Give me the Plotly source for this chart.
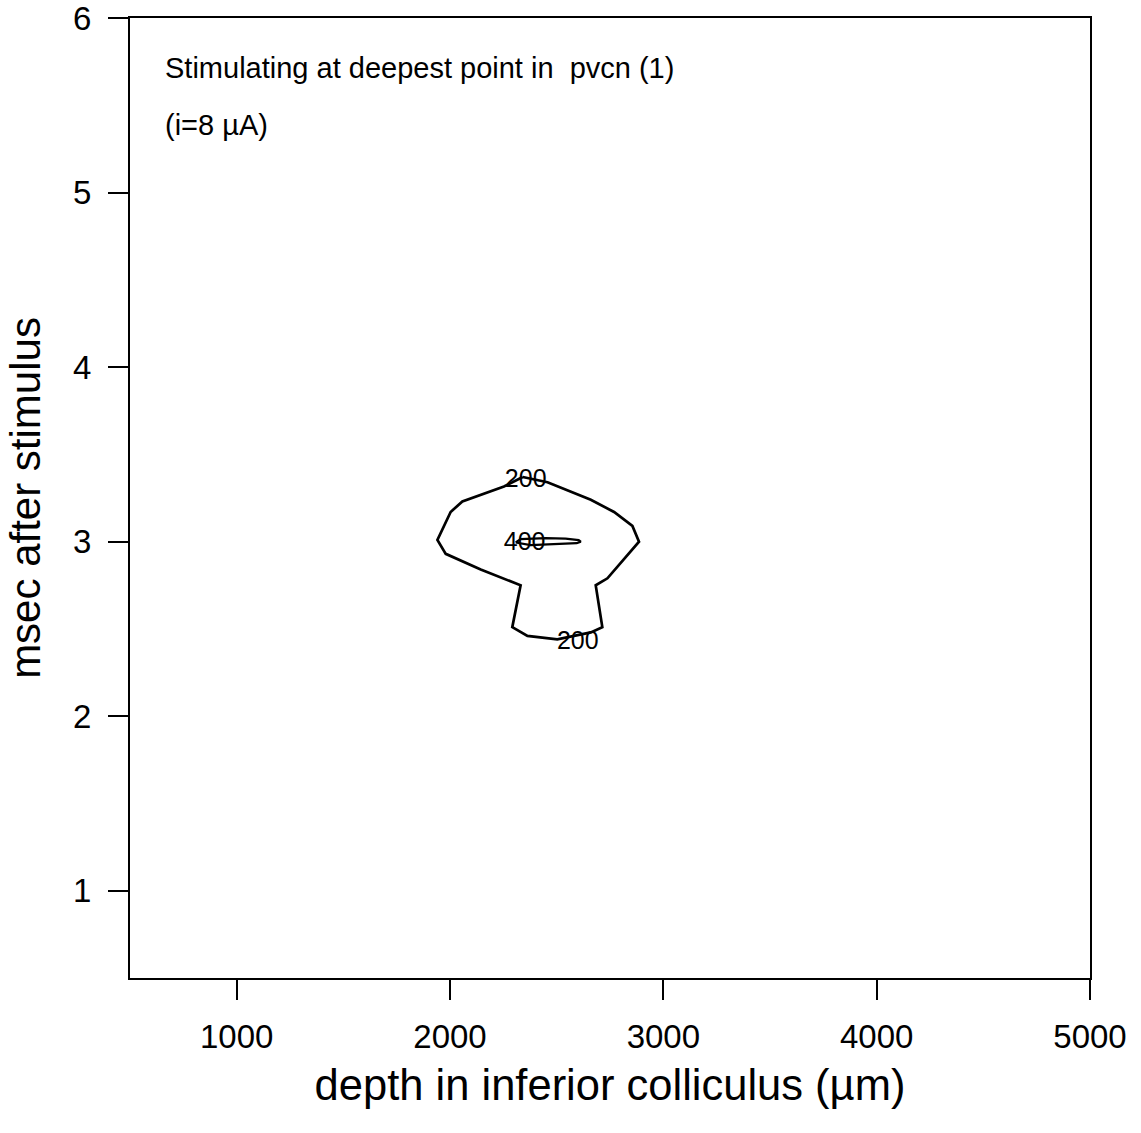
import plotly.graph_objects as go

# Contour level 200 (outer closed curve), depth in µm vs msec after stimulus
c200_x = [2341, 2253, 2058, 2003, 1941, 1980, 2144, 2331, 2292, 2363, 2503, 2660, 2714, 2683, 2738, 2886, 2855, 2769, 2660, 2457, 2341]
c200_y = [3.37, 3.316, 3.23, 3.17, 3.01, 2.93, 2.84, 2.75, 2.51, 2.46, 2.44, 2.48, 2.51, 2.75, 2.79, 3.00, 3.09, 3.17, 3.24, 3.34, 3.37]

# Contour level 400 (thin inner loop)
c400_x = [2308, 2331, 2449, 2542, 2603, 2613, 2594, 2495, 2378, 2308]
c400_y = [2.995, 3.014, 3.02, 3.017, 3.009, 3.00, 2.991, 2.986, 2.98, 2.995]

# Contour labels
label_text = ["200", "400", "200"]
label_x = [2355, 2350, 2599]
label_y = [3.35, 2.99, 2.42]

x_ticks = [1000, 2000, 3000, 4000, 5000]
y_ticks = [1, 2, 3, 4, 5, 6]

title_lines = ["Stimulating at deepest point in  pvcn (1)", "(i=8 µA)"]

fig = go.Figure()
fig.add_trace(go.Scatter(x=c200_x, y=c200_y, mode="lines",
                         line=dict(color="black", width=2.7), showlegend=False, hoverinfo="skip"))
fig.add_trace(go.Scatter(x=c400_x, y=c400_y, mode="lines",
                         line=dict(color="black", width=2.2), showlegend=False, hoverinfo="skip"))
fig.add_trace(go.Scatter(x=label_x, y=label_y, mode="text", text=label_text,
                         textfont=dict(family="Liberation Sans, Arial", size=25, color="black"),
                         showlegend=False, hoverinfo="skip"))

for txt, yy in zip(title_lines, [0.948, 0.889]):
    fig.add_annotation(xref="paper", yref="paper", x=0.034, y=yy, xanchor="left", yanchor="middle",
                       text=txt, showarrow=False, align="left",
                       font=dict(family="Liberation Sans, Arial", size=29, color="black"))

axis_common = dict(showline=True, linecolor="black", linewidth=2, mirror=True,
                   ticks="outside", ticklen=20, tickwidth=2, tickcolor="black",
                   showgrid=False, zeroline=False, automargin=False,
                   ticklabeloverflow="allow",
                   tickfont=dict(family="Liberation Sans, Arial", size=33, color="black"))

fig.update_layout(
    width=1141, height=1133,
    margin=dict(l=130, r=51, t=18, b=155),
    paper_bgcolor="white", plot_bgcolor="white",
    xaxis=dict(range=[500, 5000], tickvals=x_ticks, ticktext=[str(v) for v in x_ticks],
               ticklabelstandoff=8,
               title=dict(text="depth in inferior colliculus (µm)", standoff=16,
                          font=dict(family="Liberation Sans, Arial", size=43.5, color="black")),
               **axis_common),
    yaxis=dict(range=[0.5, 6], tickvals=y_ticks, ticktext=[str(v) for v in y_ticks],
               ticklabelstandoff=10,
               title=dict(text="msec after stimulus", standoff=19,
                          font=dict(family="Liberation Sans, Arial", size=42, color="black")),
               **axis_common),
)

fig.write_html("out.html")
